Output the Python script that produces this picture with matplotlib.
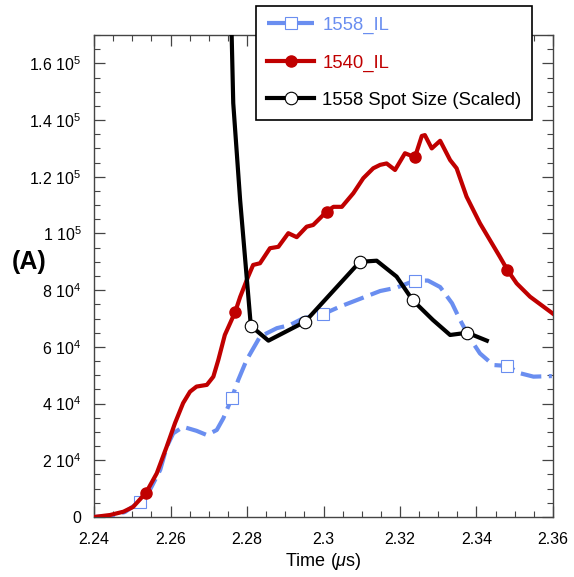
import matplotlib
matplotlib.use('Agg')
import matplotlib.pyplot as plt
from matplotlib.ticker import MultipleLocator, FixedLocator
import numpy as np

plt.rcParams['font.family'] = ['Liberation Sans', 'DejaVu Sans']
plt.rcParams['mathtext.fontset'] = 'custom'
plt.rcParams['mathtext.rm'] = 'Liberation Sans'
plt.rcParams['mathtext.it'] = 'Liberation Sans:italic'

# 1540_IL (red)
red_t = [2.2400, 2.2442, 2.2477, 2.2502, 2.2536, 2.2564, 2.2590, 2.2612, 2.2633, 2.2651,
         2.2668, 2.2695, 2.2712, 2.2725, 2.2742, 2.2769, 2.2782, 2.2803, 2.2816, 2.2834,
         2.2860, 2.2882, 2.2908, 2.2930, 2.2956, 2.2973, 2.3008, 2.3026, 2.3048, 2.3078,
         2.3104, 2.3130, 2.3148, 2.3165, 2.3187, 2.3213, 2.3239, 2.3257, 2.3265, 2.3283,
         2.3305, 2.3331, 2.3348, 2.3374, 2.3409, 2.3435, 2.3461, 2.3481, 2.3505, 2.3540,
         2.3599]
red_i = [0, 700, 1870, 3530, 8570, 15400, 24800, 33200, 40200, 44200,
         46000, 46600, 49500, 55400, 64200, 72300, 77600, 84800, 88900, 89500,
         94800, 95300, 100100, 98700, 102400, 103000, 107700, 109400, 109400, 114200,
         119500, 123000, 124200, 124700, 122400, 128300, 126900, 134400, 134700, 130000,
         132700, 125900, 123000, 113000, 103600, 97700, 91800, 87100, 82400, 77700,
         71800]
red_marks = [4, 15, 26, 36, 47]

# 1558_IL (blue)
blue_t = [2.2400, 2.2442, 2.2481, 2.2520, 2.2546, 2.2573, 2.2590, 2.2607, 2.2633, 2.2668,
          2.2695, 2.2721, 2.2738, 2.2760, 2.2777, 2.2799, 2.2834, 2.2878, 2.2912, 2.2947,
          2.2998, 2.3043, 2.3087, 2.3148, 2.3191, 2.3239, 2.3273, 2.3305, 2.3336, 2.3357,
          2.3383, 2.3409, 2.3444, 2.3479, 2.3514, 2.3549, 2.3597]
blue_i = [0, 350, 1760, 5400, 9500, 16600, 24700, 29500, 31800, 30400,
          28900, 30700, 34800, 41900, 48300, 55400, 63600, 66600, 67700, 70100,
          71500, 74200, 76500, 79700, 80900, 83400, 83400, 81100, 75400, 69500,
          63000, 57700, 53600, 53300, 50700, 49500, 49700]
blue_marks = [3, 13, 20, 25, 33]

# 1558 spot size, scaled (black)
spot_t = [2.2759, 2.2764, 2.2782, 2.2810, 2.2856, 2.2952, 2.3095, 2.3139, 2.3191, 2.3233,
          2.3286, 2.3331, 2.3376, 2.3427]
spot_v = [175000, 146000, 111800, 67400, 62200, 68900, 90000, 90400, 84800, 76500,
          69500, 64200, 65000, 62200]
spot_marks = [3, 5, 6, 9, 12]

x_ticks = [2.24, 2.26, 2.28, 2.30, 2.32, 2.34, 2.36]
x_labels = ['2.24', '2.26', '2.28', '2.3', '2.32', '2.34', '2.36']
y_ticks = [0, 20000, 40000, 60000, 80000, 100000, 120000, 140000, 160000]
y_labels = ['0', r'2 10$^{4}$', r'4 10$^{4}$', r'6 10$^{4}$', r'8 10$^{4}$',
            r'1 10$^{5}$', r'1.2 10$^{5}$', r'1.4 10$^{5}$', r'1.6 10$^{5}$']

blue = '#6a8ef0'
red = '#c00000'

fig = plt.figure(figsize=(5.74, 5.77), dpi=100)
ax = fig.add_axes([0.1638, 0.1040, 0.7996, 0.8353])

l_blue, = ax.plot(blue_t, blue_i, color=blue, lw=3, dashes=(5, 1.8),
                  marker='s', ms=8, mfc='white', mec=blue, mew=0.8,
                  markevery=blue_marks, label='1558_IL', zorder=3)
l_red, = ax.plot(red_t, red_i, color=red, lw=3, marker='o', ms=8,
                 mfc=red, mec=red, markevery=red_marks, label='1540_IL', zorder=4)
l_spot, = ax.plot(spot_t, spot_v, color='black', lw=3, marker='o', ms=9,
                  mfc='white', mec='black', mew=0.8, markevery=spot_marks,
                  label='1558 Spot Size (Scaled)', zorder=5)

ax.set_xlim(2.24, 2.36)
ax.set_ylim(0, 170000)
ax.xaxis.set_major_locator(FixedLocator(x_ticks))
ax.set_xticklabels(x_labels)
ax.xaxis.set_minor_locator(MultipleLocator(0.005))
ax.yaxis.set_major_locator(FixedLocator(y_ticks))
ax.set_yticklabels(y_labels)
ax.yaxis.set_minor_locator(MultipleLocator(5000))

ax.tick_params(which='both', direction='in', top=True, right=True,
               labelsize=11.5, color='#444444')
ax.tick_params(which='major', length=8, width=0.9)
ax.tick_params(axis='x', which='major', pad=11)
ax.tick_params(axis='y', which='major', pad=9)
ax.tick_params(which='minor', length=4, width=0.8)
for s in ax.spines.values():
    s.set_color('#444444')
    s.set_linewidth(1.0)

ax.set_xlabel(r'Time ($\mathit{\mu}$s)', fontsize=13, labelpad=3)
fig.text(0.051, 0.546, '(A)', fontsize=18, fontweight='bold', ha='center', va='center')

leg = fig.legend(handles=[l_blue, l_red, l_spot], loc='upper left',
                 bbox_to_anchor=(0.446, 0.99), fontsize=13.3, frameon=True,
                 fancybox=False, handlelength=2.55, handletextpad=0.43,
                 labelspacing=1.1, borderpad=0.6, borderaxespad=0)
leg.get_frame().set_edgecolor('black')
leg.get_frame().set_linewidth(1.2)
leg.get_frame().set_alpha(1)
for txt, col in zip(leg.get_texts(), [blue, red, 'black']):
    txt.set_color(col)

fig.savefig('out.png', dpi=100)
